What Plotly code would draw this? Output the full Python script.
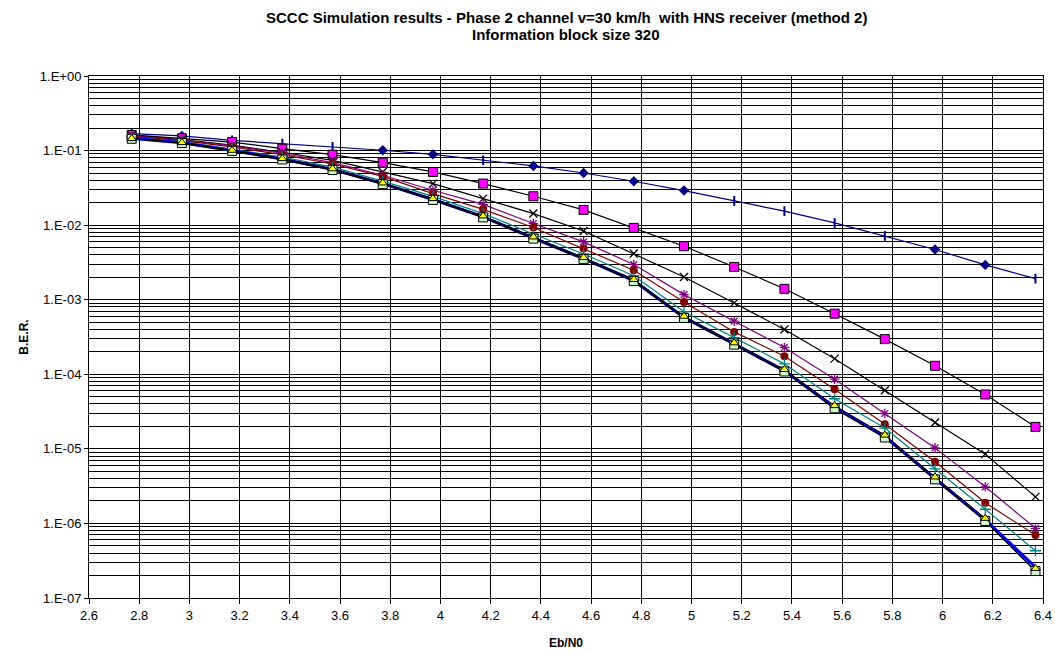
import plotly.graph_objects as go

ebn0 = [2.77, 2.97, 3.17, 3.37, 3.57, 3.77, 3.97, 4.17, 4.37, 4.57,
        4.77, 4.97, 5.17, 5.37, 5.57, 5.77, 5.97, 6.17, 6.37]

ber_navy = [0.169, 0.157, 0.137, 0.124, 0.112, 0.101, 0.089, 0.074, 0.0622, 0.050,
            0.0388, 0.0291, 0.0211, 0.0154, 0.0107, 0.00717, 0.00471, 0.00293, 0.00192]
navy_marker = ["plus", "diamond", "plus", "plus", "plus", "diamond", "diamond", "plus", "diamond", "diamond",
               "diamond", "diamond", "plus", "plus", "plus", "plus", "diamond", "diamond", "plus"]

ber_pink = [0.162, 0.146, 0.130, 0.106, 0.088, 0.069, 0.0517, 0.0361, 0.0244, 0.016,
            0.00918, 0.00521, 0.00275, 0.0014, 6.5e-4, 2.96e-4, 1.30e-4, 5.36e-5, 1.97e-5]

ber_x = [0.160, 0.140, 0.118, 0.095, 0.074, 0.0517, 0.036, 0.0227, 0.0143, 0.00836,
         0.00416, 0.00202, 9.06e-4, 3.98e-4, 1.62e-4, 6.1e-5, 2.26e-5, 8.5e-6, 2.27e-6]

ber_purple = [0.157, 0.138, 0.116, 0.092, 0.069, 0.0467, 0.0294, 0.019, 0.0105, 0.00596,
              0.00296, 1.17e-3, 5.15e-4, 2.29e-4, 8.6e-5, 2.98e-5, 1.03e-5, 3.1e-6, 8.6e-7]

ber_red = [0.155, 0.136, 0.112, 0.088, 0.066, 0.045, 0.0265, 0.0163, 0.0093, 0.00486,
           0.00249, 9.35e-4, 3.7e-4, 1.75e-4, 6.3e-5, 2.14e-5, 6.7e-6, 1.89e-6, 6.97e-7]

ber_teal = [0.150, 0.132, 0.105, 0.082, 0.060, 0.039, 0.0243, 0.0143, 0.0076, 0.0041,
            0.0021, 6.9e-4, 3.1e-4, 1.38e-4, 4.7e-5, 1.9e-5, 5.4e-6, 1.55e-6, 4.3e-7]

ber_blue = [0.146, 0.127, 0.100, 0.077, 0.056, 0.0360, 0.0221, 0.0129, 0.0067, 0.00355,
            0.00180, 5.8e-4, 2.55e-4, 1.11e-4, 3.6e-5, 1.46e-5, 4.0e-6, 1.12e-6, 2.6e-7]

ber_square = [0.144, 0.126, 0.099, 0.076, 0.055, 0.0355, 0.0218, 0.0127, 0.0066, 0.0035,
              0.00178, 5.7e-4, 2.5e-4, 1.09e-4, 3.5e-5, 1.42e-5, 3.9e-6, 1.08e-6, 2.3e-7]

ber_tri = [0.145, 0.128, 0.101, 0.078, 0.057, 0.0368, 0.0227, 0.0133, 0.00695, 0.00368,
           0.00187, 6.0e-4, 2.64e-4, 1.16e-4, 3.8e-5, 1.53e-5, 4.2e-6, 1.17e-6, 2.49e-7]

xticks = [2.6, 2.8, 3.0, 3.2, 3.4, 3.6, 3.8, 4.0, 4.2, 4.4, 4.6, 4.8, 5.0,
          5.2, 5.4, 5.6, 5.8, 6.0, 6.2, 6.4]
xticklabels = ["2.6", "2.8", "3", "3.2", "3.4", "3.6", "3.8", "4", "4.2", "4.4", "4.6",
               "4.8", "5", "5.2", "5.4", "5.6", "5.8", "6", "6.2", "6.4"]
decades = [1, 1e-1, 1e-2, 1e-3, 1e-4, 1e-5, 1e-6, 1e-7]
decade_labels = ["1.E+00", "1.E-01", "1.E-02", "1.E-03", "1.E-04", "1.E-05", "1.E-06", "1.E-07"]
minor_vals = [m * d for d in decades[1:] for m in range(2, 10)]

FONT = "Liberation Sans, Arial, sans-serif"

fig = go.Figure()

# navy series: line, plus markers, diamond markers
fig.add_trace(go.Scatter(x=ebn0, y=ber_navy, mode="lines", line=dict(color="#000080", width=1.2),
                         hoverinfo="skip", showlegend=False))
px_ = [x for x, m in zip(ebn0, navy_marker) if m == "plus"]
py_ = [y for y, m in zip(ber_navy, navy_marker) if m == "plus"]
dx_ = [x for x, m in zip(ebn0, navy_marker) if m == "diamond"]
dy_ = [y for y, m in zip(ber_navy, navy_marker) if m == "diamond"]
fig.add_trace(go.Scatter(x=px_, y=py_, mode="markers",
                         marker=dict(symbol="line-ns", size=7, line=dict(color="#000080", width=2)),
                         showlegend=False))
fig.add_trace(go.Scatter(x=dx_, y=dy_, mode="markers",
                         marker=dict(symbol="diamond", size=8, color="#000080", line=dict(width=0)),
                         showlegend=False))

fig.add_trace(go.Scatter(x=ebn0, y=ber_pink, mode="lines+markers", line=dict(color="#000000", width=1.2),
                         marker=dict(symbol="square", size=9, color="#FF00FF", line=dict(color="#000000", width=1)),
                         showlegend=False))
fig.add_trace(go.Scatter(x=ebn0, y=ber_x, mode="lines+markers", line=dict(color="#000000", width=1.2),
                         marker=dict(symbol="x-thin-open", size=8, line=dict(color="#000000", width=1.3)),
                         showlegend=False))
fig.add_trace(go.Scatter(x=ebn0, y=ber_purple, mode="lines+markers", line=dict(color="#800080", width=1.2),
                         marker=dict(symbol="asterisk-open", size=8, line=dict(color="#800080", width=1.3)),
                         showlegend=False))
fig.add_trace(go.Scatter(x=ebn0, y=ber_red, mode="lines+markers", line=dict(color="#800000", width=1.2),
                         marker=dict(symbol="circle", size=8, color="#800000", line=dict(width=0)),
                         showlegend=False))
fig.add_trace(go.Scatter(x=ebn0, y=ber_teal, mode="lines+markers", line=dict(color="#008080", width=1.2),
                         marker=dict(symbol="cross-thin-open", size=8, line=dict(color="#008080", width=1.3)),
                         showlegend=False))
fig.add_trace(go.Scatter(x=ebn0, y=ber_blue, mode="lines", line=dict(color="#0000FF", width=3),
                         showlegend=False))
fig.add_trace(go.Scatter(x=ebn0, y=ber_square, mode="lines+markers", line=dict(color="#000000", width=1.5),
                         marker=dict(symbol="square", size=9, color="#CCFFCC", line=dict(color="#000000", width=1)),
                         showlegend=False))
fig.add_trace(go.Scatter(x=ebn0, y=ber_tri, mode="lines+markers", line=dict(color="#000000", width=1),
                         marker=dict(symbol="triangle-up", size=8, color="#FFFF00", line=dict(color="#000000", width=1)),
                         showlegend=False))

fig.update_layout(
    width=1055, height=652,
    margin=dict(l=89, r=12, t=76, b=54),
    paper_bgcolor="white", plot_bgcolor="white",
    font=dict(family=FONT, size=13, color="#000000"),
    showlegend=False,
    annotations=[
        dict(text="<b>SCCC Simulation results - Phase 2 channel v=30 km/h  with HNS receiver (method 2)</b>",
             xref="paper", yref="paper", x=0.5, y=1.0, yshift=59, xanchor="center", yanchor="middle",
             showarrow=False, font=dict(size=15, family=FONT)),
        dict(text="<b>Information block size 320</b>",
             xref="paper", yref="paper", x=0.5, y=1.0, yshift=42, xanchor="center", yanchor="middle",
             showarrow=False, font=dict(size=15, family=FONT)),
    ],
)
fig.update_xaxes(
    range=[2.6, 6.4], tickvals=xticks, ticktext=xticklabels,
    showgrid=True, gridcolor="#000000", gridwidth=1,
    showline=True, linecolor="#000000", linewidth=1, mirror=True,
    ticks="outside", ticklen=5, tickcolor="#000000", zeroline=False,
    tickfont=dict(size=13), automargin=False,
    title=dict(text="<b>Eb/N0</b>", font=dict(size=12), standoff=17),
)
fig.update_yaxes(
    type="log", range=[-7, 0], tickvals=decades, ticktext=decade_labels,
    showgrid=True, gridcolor="#000000", gridwidth=1,
    minor=dict(tickmode="array", tickvals=minor_vals, showgrid=True, gridcolor="#000000", gridwidth=1, ticks=""),
    showline=True, linecolor="#000000", linewidth=1, mirror=True,
    ticks="outside", ticklen=4, tickcolor="#000000", zeroline=False,
    tickfont=dict(size=13), automargin=False,
    title=dict(text="<b>B.E.R.</b>", font=dict(size=12), standoff=8),
)

fig.write_html("out.html")
